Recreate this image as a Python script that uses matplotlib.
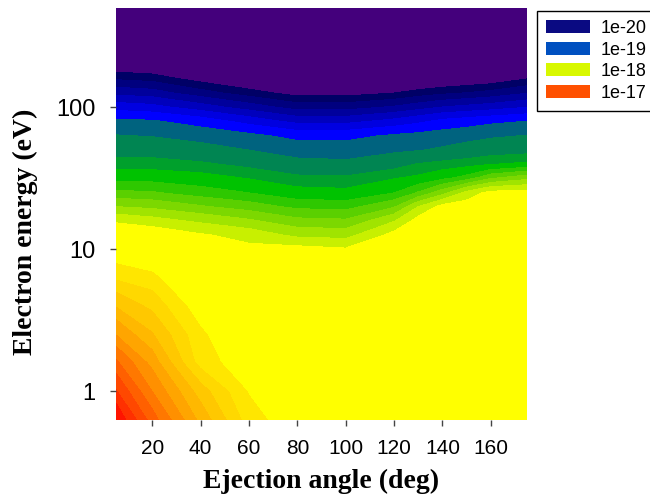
import matplotlib
matplotlib.use('Agg')
import matplotlib.pyplot as plt
from matplotlib.patches import Patch

plt.rcParams['font.family'] = ['Liberation Sans', 'DejaVu Sans']

# grid: angle (deg) x electron energy (eV), values are log10(cross section)
angles = [5, 20, 40, 60, 80, 100, 120, 130, 140, 150, 160, 175]
energies = [0.63, 1, 1.6, 2.5, 4, 6.3, 10, 12.6, 16, 20, 25, 32, 40, 50, 63, 80,
            100, 126, 160, 200, 320, 500]
log_ddcs = [
    [-16.60, -16.95, -17.33, -17.65, -17.78, -17.84, -17.83, -17.835, -17.84, -17.84, -17.84, -17.84],
    [-16.79, -17.10, -17.45, -17.71, -17.81, -17.86, -17.85, -17.855, -17.86, -17.86, -17.86, -17.86],
    [-16.98, -17.24, -17.65, -17.77, -17.84, -17.88, -17.87, -17.87, -17.87, -17.87, -17.87, -17.87],
    [-17.20, -17.39, -17.68, -17.82, -17.87, -17.90, -17.89, -17.885, -17.88, -17.88, -17.88, -17.88],
    [-17.41, -17.53, -17.77, -17.87, -17.90, -17.92, -17.91, -17.905, -17.90, -17.90, -17.90, -17.90],
    [-17.62, -17.67, -17.86, -17.93, -17.93, -17.95, -17.93, -17.92, -17.91, -17.91, -17.91, -17.91],
    [-17.80, -17.85, -17.94, -17.98, -17.97, -17.99, -17.95, -17.94, -17.93, -17.93, -17.93, -17.93],
    [-17.91, -17.94, -17.99, -18.03, -18.10, -18.11, -17.97, -17.96, -17.94, -17.94, -17.94, -17.94],
    [-18.02, -18.05, -18.10, -18.15, -18.22, -18.23, -18.09, -17.97, -17.95, -17.95, -17.95, -17.95],
    [-18.16, -18.18, -18.23, -18.28, -18.34, -18.35, -18.25, -18.08, -17.97, -17.96, -17.96, -17.96],
    [-18.30, -18.31, -18.36, -18.40, -18.46, -18.47, -18.40, -18.31, -18.19, -18.05, -17.97, -17.97],
    [-18.44, -18.44, -18.46, -18.51, -18.57, -18.58, -18.51, -18.48, -18.43, -18.37, -18.26, -18.19],
    [-18.55, -18.55, -18.58, -18.64, -18.74, -18.76, -18.66, -18.595, -18.56, -18.54, -18.51, -18.48],
    [-18.66, -18.67, -18.72, -18.80, -18.89, -18.90, -18.84, -18.81, -18.77, -18.71, -18.67, -18.65],
    [-18.79, -18.81, -18.88, -18.95, -19.06, -19.06, -18.97, -18.94, -18.91, -18.88, -18.83, -18.79],
    [-18.96, -18.98, -19.09, -19.28, -19.47, -19.47, -19.34, -19.25, -19.15, -19.10, -19.05, -19.00],
    [-19.28, -19.33, -19.50, -19.69, -19.88, -19.88, -19.77, -19.68, -19.59, -19.54, -19.49, -19.40],
    [-19.66, -19.71, -19.91, -20.10, -20.29, -20.29, -20.20, -20.11, -20.04, -19.99, -19.93, -19.81],
    [-20.04, -20.09, -20.31, -20.51, -20.70, -20.70, -20.62, -20.55, -20.48, -20.43, -20.38, -20.22],
    [-20.42, -20.47, -20.72, -20.91, -21.11, -21.11, -21.05, -20.98, -20.92, -20.87, -20.82, -20.63],
    [-21.18, -21.22, -21.54, -21.73, -21.93, -21.93, -21.90, -21.85, -21.81, -21.76, -21.71, -21.44],
    [-21.90, -21.98, -22.35, -22.55, -22.75, -22.75, -22.76, -22.71, -22.69, -22.65, -22.60, -22.26],
]

levels = [-24, -20.2, -20.0, -19.8, -19.6, -19.4, -19.2, -19.0, -18.8, -18.6, -18.5,
          -18.4, -18.32, -18.24, -18.16, -18.08, -18.0, -17.7, -17.6, -17.5, -17.4,
          -17.3, -17.2, -17.1, -17.0, -16.9, -16.8, -16.7, -16.0]
band_colors = ['#44007c',
               '#000066', '#00007f', '#00009c', '#0000bd', '#0000e0', '#0000ff',
               '#00637f', '#008552', '#00a02c', '#00c200',
               '#2ec800', '#5ad000', '#7cd800', '#a0e400', '#c8f000',
               '#ffff00',
               '#ffe600', '#ffd800', '#ffc800', '#ffb800', '#ffa500', '#ff9000',
               '#ff7800', '#ff6000', '#ff4800', '#ff3000', '#ff1400']

legend_labels = ['1e-20', '1e-19', '1e-18', '1e-17']
legend_colors = ['#0a0a82', '#0050c0', '#d8f800', '#ff5000']

fig = plt.figure(figsize=(6.5, 5), dpi=100)
ax = fig.add_axes([116/650, 80/500, 411/650, 412/500])
ax.contourf(angles, energies, log_ddcs, levels=levels, colors=band_colors, antialiased=False)
ax.set_yscale('log')
ax.set_xlim(5, 175)
ax.set_ylim(0.63, 500)

ax.set_xticks([20, 40, 60, 80, 100, 120, 140, 160])
ax.set_yticks([1, 10, 100])
ax.set_yticklabels(['1', '10', '100'])
ax.minorticks_off()
ax.tick_params(length=4, width=1, color='#444444')
ax.tick_params(axis='x', labelsize=15, pad=10)
ax.tick_params(axis='y', labelsize=17, pad=11)
for s in ax.spines.values():
    s.set_visible(False)

ax.set_xlabel('Ejection angle (deg)', fontfamily='Liberation Serif', fontweight='bold', fontsize=20)
ax.set_ylabel('Electron energy (eV)', fontfamily='Liberation Serif', fontweight='bold', fontsize=20)
ax.xaxis.set_label_coords(0.5, -0.118)
ax.yaxis.set_label_coords(-0.19, 0.456)

handles = [Patch(facecolor=c, edgecolor='none') for c in legend_colors]
leg = fig.legend(handles, legend_labels, loc='upper left', bbox_to_anchor=(537/650, 1 - 11/500),
                 fontsize=13, fancybox=False, edgecolor='black', framealpha=1,
                 handlelength=2.45, handleheight=0.7, labelspacing=0.25,
                 borderpad=0.5, handletextpad=0.6, borderaxespad=0)
leg.get_frame().set_linewidth(1)

fig.savefig('out.png', dpi=100)
